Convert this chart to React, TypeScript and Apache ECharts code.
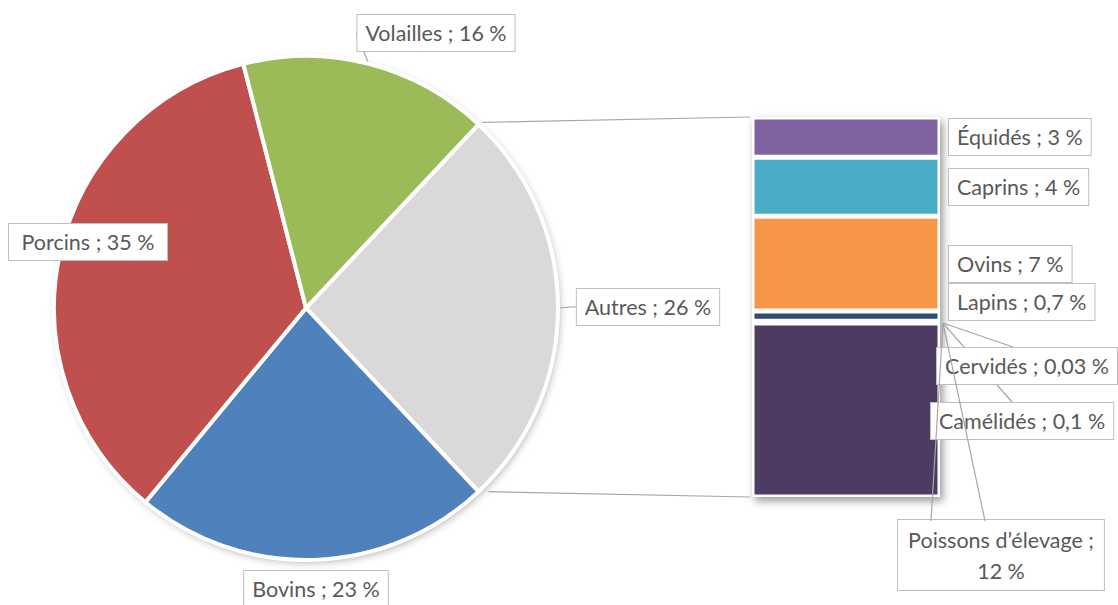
import React, { useEffect, useRef } from 'react';
import * as echarts from 'echarts';

// ---- Data ----
const pieNames = ['Autres', 'Bovins', 'Porcins', 'Volailles'];
const pieValues = [26, 23, 35, 16];
const pieColors = ['#D9D9D9', '#4F81BD', '#C0504D', '#9BBB59'];

const barNames = ['Équidés', 'Caprins', 'Ovins', 'Lapins', 'Cervidés', 'Camélidés', 'Poissons d’élevage'];
const barValues = [2.8, 4.1, 6.6, 0.7, 0.03, 0.1, 12.1];
const barLabels = ['3 %', '4 %', '7 %', '0,7 %', '0,03 %', '0,1 %', '12 %'];
const barColors = ['#8064A2', '#4BACC6', '#F79646', '#2C4D75', '#772C2A', '#5F7530', '#4D3B62'];

// ---- Layout ----
const W = 1118;
const H = 605;
const PIE_CX = 306;
const PIE_CY = 308;
const PIE_R = 252;
const BAR = { left: 752, top: 117, width: 188, height: 380 };
// label anchor positions (centre y; x is centre for pie, box left edge for bar)
const pieLabelPos = [[648, 307], [316, 589], [88, 242], [436, 33]];
const pieLabelWidth = [null, null, 142, null];
const barLabelPos: [number, number, string][] = [
  [949, 137, 'left'], [949, 187, 'left'], [949, 264, 'left'], [949, 302, 'left'],
  [937, 366, 'left'], [931, 421, 'left'], [1001, 555, 'center'],
];

const FONT = 'Lato';
const labelBox = {
  color: '#595959',
  fontSize: 21.5,
  fontFamily: FONT,
  lineHeight: 30,
  backgroundColor: '#ffffff',
  borderColor: '#BFBFBF',
  borderWidth: 1,
  padding: [4, 8, 2, 8],
  overflow: 'none',
};
const leaderStyle = { color: '#A6A6A6', width: 1.2 };

export default function App() {
  const ref = useRef<HTMLDivElement>(null);
  useEffect(() => {
    document.body.style.margin = '0';
    const chart = echarts.init(ref.current!, null, { renderer: 'svg' });
    const pieTotal = pieValues.reduce((a, b) => a + b, 0);
    const barTotal = barValues.reduce((a, b) => a + b, 0);
    const half = (pieValues[0] / pieTotal) * 180;
    const rad = (half * Math.PI) / 180;
    const topPt = [PIE_CX + PIE_R * Math.cos(rad), PIE_CY - PIE_R * Math.sin(rad)];
    const botPt = [PIE_CX + PIE_R * Math.cos(rad), PIE_CY + PIE_R * Math.sin(rad)];
    // anchor of the small-segment callouts: right edge of the bar, top of the last segment
    const cumBeforeLast = barValues.slice(0, barValues.length - 1).reduce((a, b) => a + b, 0);
    const anchor = [BAR.left + BAR.width + 3, BAR.top + (BAR.height * cumBeforeLast) / barTotal];
    const lineStyle = { stroke: '#A6A6A6', lineWidth: 1.2, fill: 'none' };

    const option: any = {
      animation: false,
      backgroundColor: '#ffffff',
      grid: { left: BAR.left, top: BAR.top, width: BAR.width, height: BAR.height },
      xAxis: { type: 'category', data: ['Autres'], show: false },
      yAxis: { type: 'value', min: 0, max: barTotal, inverse: true, show: false },
      graphic: [
        {
          type: 'circle', z: 0,
          shape: { cx: PIE_CX, cy: PIE_CY, r: PIE_R - 1 },
          style: { fill: '#ffffff', shadowBlur: 8, shadowOffsetX: 2, shadowOffsetY: 3, shadowColor: 'rgba(0,0,0,0.35)' },
        },
        {
          type: 'rect', z: 0,
          shape: { x: BAR.left, y: BAR.top, width: BAR.width, height: BAR.height },
          style: { fill: '#ffffff', shadowBlur: 8, shadowOffsetX: 3, shadowOffsetY: 4, shadowColor: 'rgba(0,0,0,0.4)' },
        },
        {
          type: 'line', z: 1,
          shape: { x1: topPt[0] + 4, y1: topPt[1] - 2, x2: BAR.left - 2, y2: BAR.top },
          style: lineStyle,
        },
        {
          type: 'line', z: 1,
          shape: { x1: botPt[0] + 10, y1: botPt[1], x2: BAR.left - 2, y2: BAR.top + BAR.height },
          style: lineStyle,
        },
        { type: 'polyline', z: 1, shape: { points: [anchor, [1013, 347]] }, style: lineStyle },
        { type: 'polyline', z: 1, shape: { points: [anchor, [1012, 402]] }, style: lineStyle },
        { type: 'polyline', z: 5, shape: { points: [[931, 521], anchor, [985, 521]] }, style: lineStyle },
      ],
      series: [
        {
          type: 'pie',
          z: 3,
          center: [PIE_CX, PIE_CY],
          radius: PIE_R,
          startAngle: half,
          clockwise: true,
          data: pieNames.map((n, i) => ({
            name: n,
            value: pieValues[i],
            itemStyle: { color: pieColors[i] },
            labelLine: { show: i === 0 || i === 3 },
            label: pieLabelWidth[i] ? { width: pieLabelWidth[i], align: 'center' } : {},
          })),
          itemStyle: { borderColor: '#ffffff', borderWidth: 4 },
          label: { show: true, position: 'outside', formatter: '{b} ; {c} %', ...labelBox },
          labelLine: { length: 5, length2: 5, smooth: false, lineStyle: leaderStyle },
          labelLayout: (p: any) => {
            const pos = pieLabelPos[p.dataIndex];
            return { x: pos[0], y: pos[1], align: 'center', verticalAlign: 'middle' };
          },
        },
        ...barNames.map((n, i) => ({
          type: 'bar',
          name: n,
          stack: 'autres',
          z: 3,
          barWidth: '100%',
          data: [barValues[i]],
          itemStyle: { color: barColors[i], borderColor: '#ffffff', borderWidth: 2.5 },
          label: {
            show: true,
            position: 'right',
            formatter: i === 6 ? `${n} ;\n${barLabels[i]}` : `${n} ; ${barLabels[i]}`,
            ...labelBox,
            padding: i === 6 ? [4, 10, 4, 10] : labelBox.padding,
            lineHeight: i === 6 ? 31 : labelBox.lineHeight,
            align: barLabelPos[i][2],
          },
          labelLayout: () => ({
            x: barLabelPos[i][0],
            y: barLabelPos[i][1],
            align: barLabelPos[i][2],
            verticalAlign: 'middle',
          }),
        })),
      ],
    };
    chart.setOption(option);
    return () => chart.dispose();
  }, []);
  return <div ref={ref} style={{ width: W, height: H }} />;
}
